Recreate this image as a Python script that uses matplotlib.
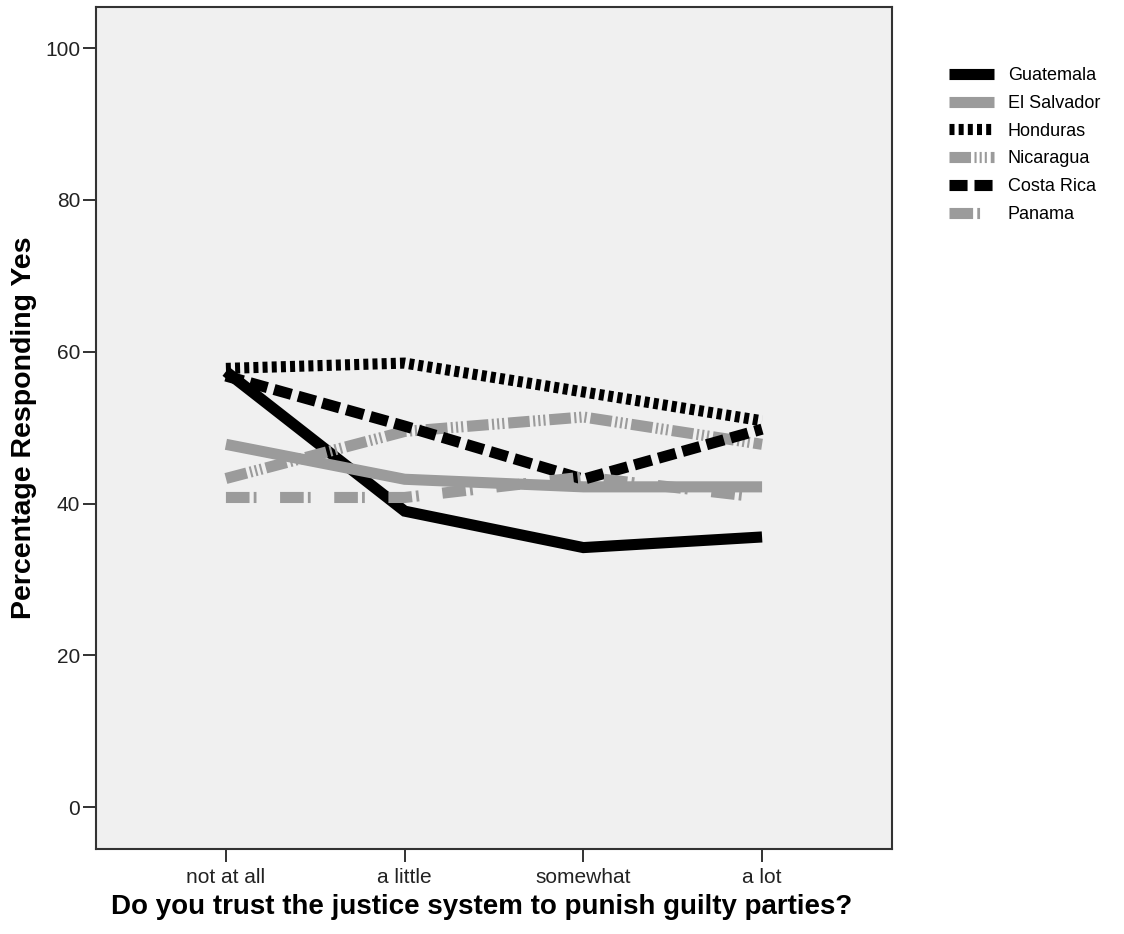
import matplotlib
matplotlib.use("Agg")
import matplotlib.pyplot as plt

plt.rcParams['font.family'] = ['Liberation Sans', 'DejaVu Sans']
plt.rcParams['lines.scale_dashes'] = False

# categorias del eje x
categorias = ["not at all", "a little", "somewhat", "a lot"]

# porcentaje que responde "si" por pais
paises = ["Guatemala", "El Salvador", "Honduras", "Nicaragua", "Costa Rica", "Panama"]
guatemala = [57.4, 39.0, 34.2, 35.6]
el_salvador = [47.8, 43.2, 42.2, 42.2]
honduras = [57.8, 58.5, 54.7, 50.9]
nicaragua = [43.3, 49.5, 51.4, 47.8]
costa_rica = [56.8, 50.2, 43.2, 49.8]
panama = [40.8, 40.8, 43.5, 40.8]
valores = [guatemala, el_salvador, honduras, nicaragua, costa_rica, panama]

negro = "black"
gris = "#9b9b9b"

# estilo de cada linea (color, patron de guiones en puntos)
estilos = [
    (negro, "solid"),
    (gris, "solid"),
    (negro, (0, (3.6, 3.0))),
    (gris, (0, (15.5, 2.5, 1.5, 2.2, 1.5, 2.2, 1.5, 2.8))),
    (negro, (0, (13.0, 5.0))),
    (gris, (0, (17.0, 3.0, 2.0, 17.0))),
]

fig = plt.figure(figsize=(11.24, 9.34), dpi=100)
ax = fig.add_axes([0.0854, 0.091, 0.7082, 0.9015])
ax.set_facecolor("#f0f0f0")

x = list(range(len(categorias)))
for nombre, serie, (color, ls) in zip(paises, valores, estilos):
    ax.plot(x, serie, color=color, linestyle=ls, linewidth=8,
            label=nombre, solid_joinstyle="miter", dash_capstyle="butt",
            solid_capstyle="butt")

ax.set_xlim(-0.727, 3.727)
ax.set_ylim(-5.5, 105.4)
ax.set_xticks(x)
ax.set_xticklabels(categorias)
ax.set_yticks([0, 20, 40, 60, 80, 100])
ax.tick_params(axis="both", direction="out", length=9.5, width=1.3,
               labelsize=15, colors="#222222")
ax.tick_params(axis="x", pad=4)
ax.tick_params(axis="y", pad=2)

for s in ax.spines.values():
    s.set_color("#333333")
    s.set_linewidth(1.5)

ax.set_xlabel("Do you trust the justice system to punish guilty parties?",
              fontsize=20, weight="bold", labelpad=5)
ax.xaxis.label.set_x(0.485)
ax.set_ylabel("Percentage Responding Yes", fontsize=20.5, weight="bold", labelpad=6)

fig.legend(loc="upper left", bbox_to_anchor=(0.838, 0.936), frameon=False,
           fontsize=13, handlelength=2.5, handletextpad=0.75,
           labelspacing=0.6, borderaxespad=0)

fig.savefig("out.png", dpi=100)
